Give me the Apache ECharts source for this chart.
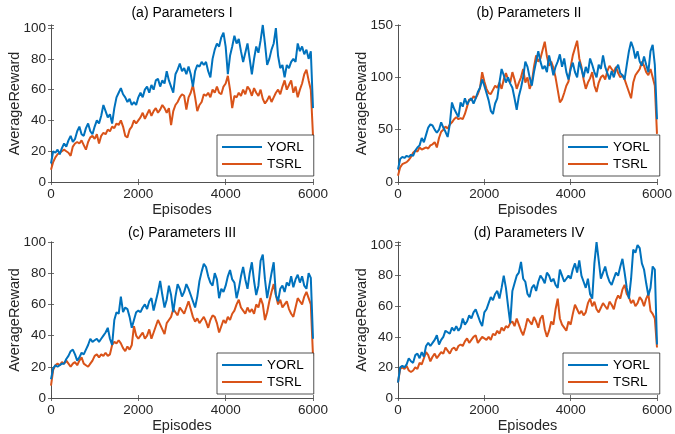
<!DOCTYPE html>
<html>
<head>
<meta charset="utf-8">
<script src="https://cdn.jsdelivr.net/npm/echarts@6/dist/echarts.min.js"></script>
<style>html,body{margin:0;padding:0;background:#fff}#c{width:675px;height:434px}</style>
</head>
<body>
<div id="c"></div>
<script>
// Episodes sampled every 50 (0..6000)
const episodes = Array.from({length: 121}, (_, i) => i * 50);
const seriesNames = ['YORL', 'TSRL'];
const panelTitles = ['(a) Parameters I', '(b) Parameters II', '(c) Parameters III', '(d) Parameters IV'];
const xTicks = [0, 2000, 4000, 6000];
const yMax = [102, 150, 100, 102];
const yStep = [20, 50, 20, 20];

const yorlA = [12,20,19,21,18,22,25,23,27,30,26,28,33,36,31,30,35,38,33,31,
  36,40,38,43,50,46,42,44,38,48,55,58,61,57,55,52,54,50,52,50,
  55,58,55,60,62,58,63,60,66,67,62,66,64,72,66,62,58,70,73,77,
  72,74,70,75,70,62,72,76,75,78,76,78,72,68,80,86,90,88,94,97,
  88,70,82,88,95,90,93,85,78,84,90,80,70,80,88,84,92,102,90,76,
  80,86,90,100,82,74,76,68,76,74,78,80,78,90,85,88,83,86,80,85,
  48];
const tsrlA = [8,13,16,18,19,20,21,20,19,17,23,25,26,25,27,24,21,26,29,30,
  28,31,25,30,32,31,34,33,36,35,38,37,40,36,30,29,34,36,40,38,
  40,42,45,41,44,47,43,46,48,45,47,50,48,45,48,37,46,50,52,55,
  57,56,47,55,58,63,55,46,50,52,57,56,58,55,60,58,62,58,57,62,
  64,69,60,48,56,55,58,56,60,57,62,60,56,61,58,56,60,54,51,53,
  56,52,55,58,60,57,62,66,60,63,66,58,62,55,60,64,70,73,66,60,
  30];
const yorlB = [12,22,24,23,25,24,26,25,30,33,35,42,38,45,52,55,54,50,47,50,
  57,52,48,43,55,76,70,66,62,76,72,80,74,78,80,75,80,86,90,98,
  92,85,78,68,65,75,80,95,108,102,95,100,94,90,80,69,82,90,100,115,
  110,100,92,105,115,125,115,108,111,105,121,112,102,110,115,122,110,118,105,98,
  108,114,105,100,115,108,100,110,104,118,112,105,100,112,108,121,110,104,98,106,
  100,108,112,104,102,98,112,125,134,128,118,125,115,111,120,112,105,125,131,112,
  60];
const tsrlB = [6,14,17,18,19,21,24,28,30,29,33,31,32,33,32,35,36,38,33,42,
  48,50,53,51,55,57,60,62,60,61,60,65,72,79,78,82,80,84,90,105,
  96,89,85,84,88,92,90,95,89,98,104,98,95,105,98,89,95,100,108,95,
  100,89,95,110,121,115,118,126,134,120,111,115,109,100,88,76,79,85,92,96,
  110,121,128,135,118,110,98,89,95,99,105,92,86,95,100,102,98,106,111,108,
  105,110,104,100,102,98,92,86,80,95,102,105,108,115,111,105,102,108,100,92,
  46];
const yorlC = [12,19,21,20,21,22,22,25,27,30,31,28,24,26,29,28,31,34,38,36,
  37,38,36,38,40,42,45,38,34,50,55,54,65,55,58,57,52,45,50,55,
  56,55,58,60,57,62,64,56,62,68,75,66,58,63,72,66,55,65,73,70,
  65,68,73,70,66,62,58,65,75,81,86,84,78,74,72,80,76,64,70,68,
  72,78,82,76,74,64,70,78,84,76,70,80,87,75,66,72,88,92,76,64,
  72,80,87,66,62,70,72,68,74,72,78,71,76,79,74,78,72,70,80,77,
  38];
const tsrlC = [8,18,21,22,21,23,22,24,22,20,22,23,21,24,26,22,21,20,22,24,
  27,28,26,28,27,29,27,28,34,36,35,37,35,32,30,33,31,34,46,40,
  38,40,42,38,40,44,38,42,46,50,47,44,41,48,50,52,57,55,53,58,
  56,54,58,62,57,52,49,51,48,50,52,49,45,50,53,52,48,42,46,50,
  48,52,50,54,56,60,63,58,56,54,58,55,57,54,60,58,64,60,50,55,
  62,68,73,66,60,63,58,60,62,57,54,52,58,64,62,60,65,68,64,60,
  27];
const yorlD = [10,20,21,20,22,26,24,23,28,29,26,30,27,34,36,34,36,38,41,35,
  38,40,44,43,42,46,44,47,44,46,52,48,50,54,52,56,58,54,50,47,
  56,58,62,66,64,68,70,65,72,80,72,60,49,70,75,80,82,89,78,76,
  68,66,72,74,70,76,80,78,75,82,80,76,78,74,72,84,80,76,78,80,
  78,84,88,82,90,80,76,72,78,68,65,88,102,90,78,82,86,80,76,74,
  78,82,80,86,91,82,72,65,78,97,95,100,98,88,84,75,67,72,86,84,
  35];
const tsrlD = [10,19,20,19,21,18,17,18,20,19,23,22,26,30,28,24,27,29,26,28,
  30,29,33,31,29,32,33,31,34,35,34,37,39,36,38,40,41,36,38,40,
  39,38,40,38,42,41,44,42,46,44,47,46,49,50,47,52,48,44,41,46,
  52,50,48,53,50,46,52,54,45,40,44,50,48,58,65,52,48,46,44,50,
  48,55,61,58,55,57,54,56,62,65,60,63,58,56,59,62,60,58,63,61,
  58,64,67,65,71,74,68,66,62,64,60,62,66,64,60,65,68,57,55,52,
  33];

const panelData = [[yorlA, tsrlA], [yorlB, tsrlB], [yorlC, tsrlC], [yorlD, tsrlD]];
const colors = ['#0072BD', '#D95319'];
const FONT = "'Liberation Sans', Arial, Helvetica, sans-serif";
const AXC = '#4a4a4a';

const grids = [
  {left: 51, right: 362, top: 25, bottom: 252},
  {left: 398, right: 14, top: 25, bottom: 252},
  {left: 51, right: 362, top: 242, bottom: 35},
  {left: 398, right: 14, top: 242, bottom: 35}
];
const titlePos = [[182, 6], [529, 6], [182, 226], [529, 226]];
const legendPos = [[217, 135], [563, 135], [217, 353], [563, 353]];

const xAxes = [], yAxes = [], series = [], titles = [], legends = [];
grids.forEach((g, i) => {
  const base = {
    gridIndex: i, type: 'value', min: 0, max: 6000, interval: 2000,
    axisLine: {show: true, lineStyle: {color: AXC, width: 0.8}},
    axisTick: {show: true, inside: true, length: 3, lineStyle: {color: AXC, width: 0.8}},
    splitLine: {show: false}
  };
  xAxes.push(Object.assign({}, base, {
    position: 'bottom',
    axisLabel: {color: '#262626', fontFamily: FONT, fontSize: 13.5, margin: 5,
      formatter: v => (xTicks.indexOf(v) >= 0 ? String(v) : '')},
    name: 'Episodes', nameLocation: 'middle', nameGap: 20, nameMoveOverlap: false,
    nameTextStyle: {color: '#262626', fontFamily: FONT, fontSize: 14.5}
  }));
  xAxes.push(Object.assign({}, base, {position: 'top', axisLabel: {show: false}}));
  const ybase = {
    gridIndex: i, type: 'value', min: 0, max: yMax[i], interval: yStep[i],
    axisLine: {show: true, lineStyle: {color: AXC, width: 0.8}},
    axisTick: {show: true, inside: true, length: 3, lineStyle: {color: AXC, width: 0.8}},
    splitLine: {show: false}
  };
  const step = yStep[i];
  yAxes.push(Object.assign({}, ybase, {
    position: 'left',
    axisLabel: {color: '#262626', fontFamily: FONT, fontSize: 13.5, margin: 5,
      formatter: v => (v % step === 0 ? String(v) : '')},
    name: 'AverageReward', nameLocation: 'middle', nameGap: 29, nameMoveOverlap: false,
    nameTextStyle: {color: '#262626', fontFamily: FONT, fontSize: 14.5}
  }));
  yAxes.push(Object.assign({}, ybase, {position: 'right', axisLabel: {show: false}}));

  panelData[i].forEach((arr, k) => {
    series.push({
      name: seriesNames[k], type: 'line', xAxisIndex: 2 * i, yAxisIndex: 2 * i,
      data: episodes.map((e, j) => [e, arr[j]]),
      symbol: 'none', showSymbol: false, animation: false,
      lineStyle: {color: colors[k], width: 2}, itemStyle: {color: colors[k]},
      z: k === 0 ? 3 : 2
    });
  });
  titles.push({
    text: panelTitles[i], left: titlePos[i][0], top: titlePos[i][1], textAlign: 'center', padding: 0,
    textStyle: {fontFamily: FONT, fontSize: 14, fontWeight: 'normal', color: '#000'}
  });
  legends.push({
    data: seriesNames, left: legendPos[i][0], top: legendPos[i][1], orient: 'vertical',
    backgroundColor: '#fff', borderColor: '#262626', borderWidth: 0.8, borderRadius: 0,
    padding: [5, 10, 5, 4], itemGap: 3, itemWidth: 40, itemHeight: 13, selectedMode: false,
    textStyle: {fontFamily: FONT, fontSize: 13.5, color: '#000'},
    itemStyle: {opacity: 0}, lineStyle: {width: 2}
  });
});

const chart = echarts.init(document.getElementById('c'), null, {renderer: 'canvas'});
chart.setOption({
  animation: false, backgroundColor: '#fff',
  title: titles, legend: legends, grid: grids,
  xAxis: xAxes, yAxis: yAxes, series: series
});
</script>
</body>
</html>
